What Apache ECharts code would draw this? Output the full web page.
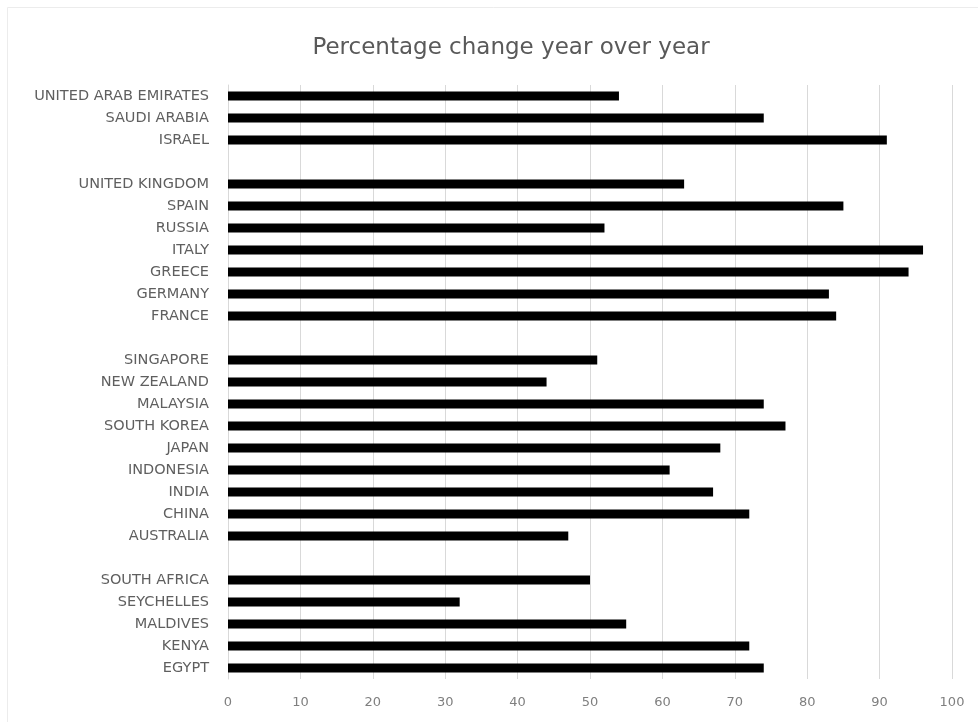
<!DOCTYPE html>
<html>
<head>
<meta charset="utf-8">
<script src="https://cdn.jsdelivr.net/npm/echarts@6/dist/echarts.min.js"></script>
<style>html,body{margin:0;padding:0;background:#fff}#c{width:978px;height:722px}</style>
</head>
<body>
<div id="c"></div>
<script>
// Categories listed top to bottom (blank strings are group gaps)
var categories = [
  'UNITED ARAB EMIRATES','SAUDI ARABIA','ISRAEL',' ',
  'UNITED KINGDOM','SPAIN','RUSSIA','ITALY','GREECE','GERMANY','FRANCE','  ',
  'SINGAPORE','NEW ZEALAND','MALAYSIA','SOUTH KOREA','JAPAN','INDONESIA','INDIA','CHINA','AUSTRALIA','   ',
  'SOUTH AFRICA','SEYCHELLES','MALDIVES','KENYA','EGYPT'
];
var values = [
  54, 74, 91, null,
  63, 85, 52, 96, 94, 83, 84, null,
  51, 44, 74, 77, 68, 61, 67, 72, 47, null,
  50, 32, 55, 72, 74
];
var xTicks = [0,10,20,30,40,50,60,70,80,90,100];
var titleText = 'Percentage change year over year';

var chart = echarts.init(document.getElementById('c'), null, {renderer:'canvas'});
chart.setOption({
  animation: false,
  backgroundColor: '#ffffff',
  graphic: [{
    type: 'rect', shape: {x: 7.5, y: 7.5, width: 1000, height: 800},
    style: {fill: 'none', stroke: '#ececec', lineWidth: 1}, silent: true
  }],
  title: {
    text: titleText, left: 506, top: 32, textAlign: 'center',
    textStyle: {fontFamily: 'DejaVu Sans', fontSize: 23, fontWeight: 'normal', color: '#595959'}
  },
  grid: {left: 228, right: 26, top: 85, bottom: 43, containLabel: false},
  xAxis: {
    type: 'value', min: xTicks[0], max: xTicks[xTicks.length-1], interval: 10,
    axisLine: {show: false}, axisTick: {show: false},
    splitLine: {show: true, lineStyle: {color: '#d9d9d9', width: 1}},
    axisLabel: {margin: 17, color: '#7f7f7f', fontFamily: 'DejaVu Sans', fontSize: 13}
  },
  yAxis: {
    type: 'category', data: categories, inverse: true,
    axisLine: {show: true, lineStyle: {color: '#d9d9d9'}}, axisTick: {show: false},
    axisLabel: {margin: 19, color: '#5f5f5f', fontFamily: 'DejaVu Sans', fontSize: 14.5, interval: 0}
  },
  series: [{
    type: 'bar', data: values, barWidth: 9,
    itemStyle: {color: '#000000'}
  }]
});
</script>
</body>
</html>
